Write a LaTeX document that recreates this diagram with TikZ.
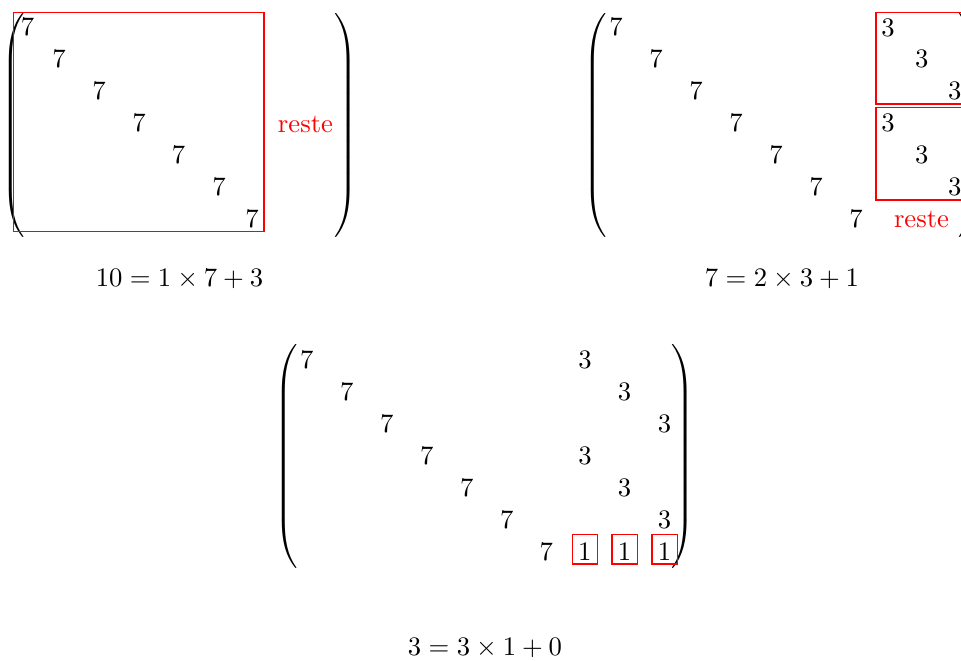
\documentclass[tikz,border=0pt]{standalone}
\usetikzlibrary{matrix}

\begin{document}
\begin{tikzpicture}[
  x=0.375pt, y=-0.375pt,
  num/.style={inner sep=0pt},
  frame/.style={draw=none, inner sep=0pt, minimum height=88pt,
    left delimiter=(, right delimiter=)},
  redbox/.style={draw=red, line width=0.4pt},
  reste/.style={text=red, anchor=base, inner sep=0pt},
  onebox/.style={draw=red, line width=0.4pt, inner xsep=2.2pt, inner ysep=1.5pt,
    text height=8pt, text depth=0pt, anchor=base},
  eqn/.style={anchor=base, inner sep=0pt},
]

\clip (0,0) rectangle (961,660);

% =============================================
% Matrix 1: 10 = 1 x 7 + 3
% =============================================
\node[frame, minimum width=113.5pt] (mat1) at (179.5,125) {};

\node[num] (a1) at (27.5,27)  {$7$};
\node[num] (a2) at (59,59)    {$7$};
\node[num] (a3) at (99,91)    {$7$};
\node[num] (a4) at (139,123)  {$7$};
\node[num] (a5) at (178.5,155){$7$};
\node[num] (a6) at (219,187)  {$7$};
\node[num] (a7) at (252,219)  {$7$};

\draw[redbox] (13.3,12.7) rectangle (264,231.7);
\node[reste] (rst1) at (305.5,132) {reste};

\node[eqn] (eq1) at (179.5,286.7) {$10 = 1 \times 7 + 3$};

% =============================================
% Matrix 2: 7 = 2 x 3 + 1
% =============================================
\node[frame, minimum width=129pt] (mat2) at (782.5,125) {};

\node[num] (b1) at (616,27)  {$7$};
\node[num] (b2) at (656,59)  {$7$};
\node[num] (b3) at (696,91)  {$7$};
\node[num] (b4) at (736,123) {$7$};
\node[num] (b5) at (776,155) {$7$};
\node[num] (b6) at (816,187) {$7$};
\node[num] (b7) at (856,219) {$7$};

\node[num] (c1) at (888,28)    {$3$};
\node[num] (c2) at (921.7,59)  {$3$};
\node[num] (c3) at (954.7,91)  {$3$};
\node[num] (c4) at (888,123)   {$3$};
\node[num] (c5) at (921.7,155) {$3$};
\node[num] (c6) at (954.7,187) {$3$};

\draw[redbox] (876,12.7) rectangle (967,104);
\draw[redbox] (876,107.7) rectangle (967,200);
\node[reste] (rst2) at (921.5,227.7) {reste};

\node[eqn] (eq2) at (782,286.7) {$7 = 2 \times 3 + 1$};

% =============================================
% Matrix 3: 3 = 3 x 1 + 0
% =============================================
\node[frame, minimum width=137.5pt] (mat3) at (484.5,456.5) {};

\node[num] (d1) at (306.7,359.5) {$7$};
\node[num] (d2) at (346.7,391.5) {$7$};
\node[num] (d3) at (386.7,423.5) {$7$};
\node[num] (d4) at (426.7,455.5) {$7$};
\node[num] (d5) at (466.7,487.5) {$7$};
\node[num] (d6) at (506.7,519.5) {$7$};
\node[num] (d7) at (546.2,551.5) {$7$};

\node[num] (e1) at (585,359.5)   {$3$};
\node[num] (e2) at (624.5,391.5) {$3$};
\node[num] (e3) at (664.5,423.5) {$3$};
\node[num] (e4) at (585,455.5)   {$3$};
\node[num] (e5) at (624.5,487.5) {$3$};
\node[num] (e6) at (664.5,519.5) {$3$};

\node[onebox] (f1) at (584.8,560) {$1$};
\node[onebox] (f2) at (624.5,560) {$1$};
\node[onebox] (f3) at (664.5,560) {$1$};

\node[eqn] (eq3) at (485,655) {$3 = 3 \times 1 + 0$};

\end{tikzpicture}
\end{document}
